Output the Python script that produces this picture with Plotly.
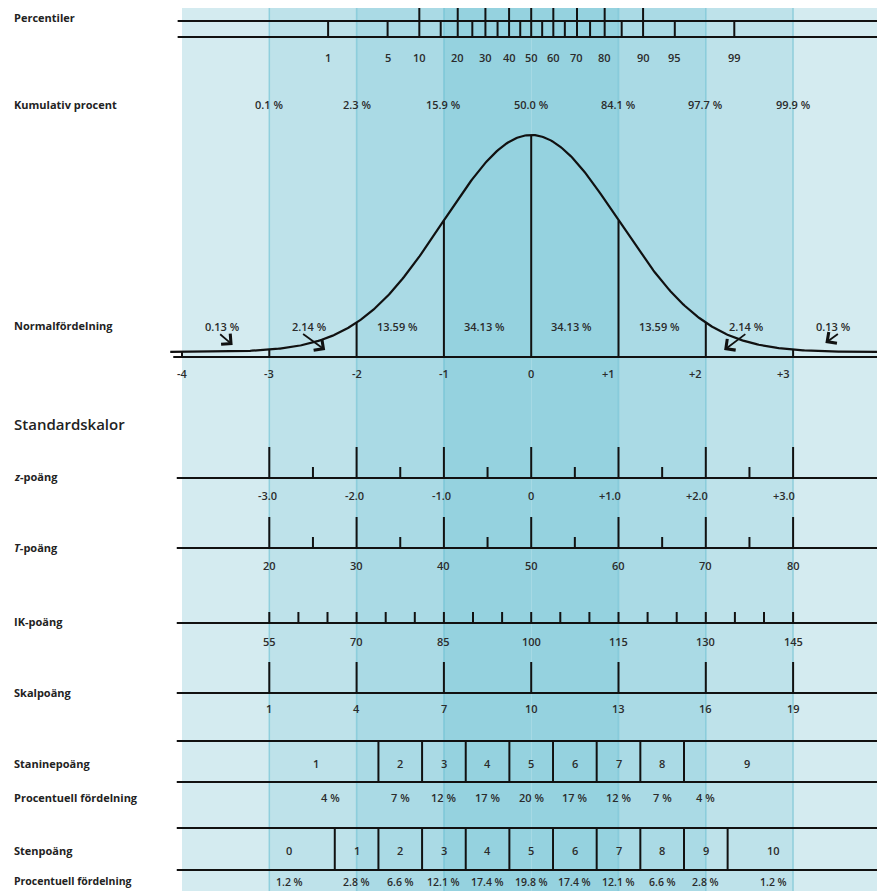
import plotly.graph_objects as go
from statistics import NormalDist
import numpy as np

ND = NormalDist()

# ---------------- data ----------------
band_edges = [-4, -3, -2, -1, 0, 1, 2, 3, 4]
z_axis_values = [-4, -3, -2, -1, 0, 1, 2, 3, 4]
z_axis_labels = ["-4", "-3", "-2", "-1", "0", "+1", "+2", "+3", "+4"]

percentile_major = [10, 20, 30, 40, 50, 60, 70, 80, 90]
percentile_minor = [1, 5, 15, 25, 35, 45, 55, 65, 75, 85, 95, 99]
percentile_labels = [1, 5, 10, 20, 30, 40, 50, 60, 70, 80, 90, 95, 99]

cumulative_z = [-3, -2, -1, 0, 1, 2, 3]
cumulative_labels = ["0.1 %", "2.3 %", "15.9 %", "50.0 %", "84.1 %", "97.7 %", "99.9 %"]

area_labels = ["0.13 %", "2.14 %", "13.59 %", "34.13 %", "34.13 %", "13.59 %", "2.14 %", "0.13 %"]

zscore_major = [-3, -2, -1, 0, 1, 2, 3]
zscore_minor = [-2.5, -1.5, -0.5, 0.5, 1.5, 2.5]
zscore_labels = ["-3.0", "-2.0", "-1.0", "0", "+1.0", "+2.0", "+3.0"]

t_major = [20, 30, 40, 50, 60, 70, 80]
t_minor = [25, 35, 45, 55, 65, 75]

iq_ticks = [55, 60, 65, 70, 75, 80, 85, 90, 95, 100, 105, 110, 115, 120, 125, 130, 135, 140, 145]
iq_labels = [55, 70, 85, 100, 115, 130, 145]

scale_scores = [1, 4, 7, 10, 13, 16, 19]

stanine_edges = [-1.75, -1.25, -0.75, -0.25, 0.25, 0.75, 1.25, 1.75]
stanine_labels = ["1", "2", "3", "4", "5", "6", "7", "8", "9"]
stanine_pct = ["4 %", "7 %", "12 %", "17 %", "20 %", "17 %", "12 %", "7 %", "4 %"]

sten_edges = [-2.25, -1.75, -1.25, -0.75, -0.25, 0.25, 0.75, 1.25, 1.75, 2.25]
sten_labels = ["0", "1", "2", "3", "4", "5", "6", "7", "8", "9", "10"]
sten_pct = ["1.2 %", "2.8 %", "6.6 %", "12.1 %", "17.4 %", "19.8 %", "17.4 %", "12.1 %", "6.6 %", "2.8 %", "1.2 %"]

# ---------------- layout constants ----------------
W, H = 877, 891
PX_PER_Z = 87.3
Z0_PX = 531.2
X_RANGE = [-Z0_PX / PX_PER_Z, (W - Z0_PX) / PX_PER_Z]
LINE_L = -4.06
LINE_R = X_RANGE[1] + 0.05

BAND_COLORS = {4: "#d4ebf0", 3: "#bee2ea", 2: "#aadae5", 1: "#95d2df"}
BAND_LINE = "rgba(95,185,205,0.55)"
INK = "#111111"
TXT = "#2b2b2b"
FONT = "Open Sans"
LW = 2
NUM_SIZE = 11

fig = go.Figure()
shapes = []
annots = []


def hline(x0, x1, y, w=LW):
    shapes.append(dict(type="line", xref="x", yref="y", x0=x0, x1=x1, y0=y, y1=y,
                       line=dict(color=INK, width=w), layer="above"))


def vline(x, y0, y1, w=LW):
    shapes.append(dict(type="line", xref="x", yref="y", x0=x, x1=x, y0=y0, y1=y1,
                       line=dict(color=INK, width=w), layer="above"))


def text(x, y, s, size=NUM_SIZE, weight=600, xshift=0, color=TXT):
    annots.append(dict(x=x, y=y, xref="x", yref="y", text=s, showarrow=False,
                       xanchor="center", yanchor="middle", xshift=xshift,
                       font=dict(family=FONT, size=size, color=color, weight=weight)))


def left_label(y, s, size=11, weight=700):
    annots.append(dict(x=12 / W, y=y, xref="paper", yref="y", text=s, showarrow=False,
                       xanchor="left", yanchor="middle",
                       font=dict(family=FONT, size=size, color="#222222", weight=weight)))


# ---------------- background bands ----------------
TOP = 8
for a, b in zip(band_edges[:-1], band_edges[1:]):
    lvl = int(max(abs(a), abs(b)))
    shapes.append(dict(type="rect", xref="x", yref="y", x0=a, x1=b, y0=TOP, y1=H,
                       fillcolor=BAND_COLORS[lvl], line=dict(width=0), layer="below"))
for e in band_edges[1:-1]:
    if e != 0:
        shapes.append(dict(type="line", xref="x", yref="y", x0=e, x1=e, y0=TOP, y1=H,
                           line=dict(color=BAND_LINE, width=1.5), layer="below"))

# ---------------- percentiles ----------------
P_TOP, P_L1, P_L2, P_LAB = 8, 21, 37, 57
hline(-4.05, LINE_R, P_L1)
hline(-4.05, LINE_R, P_L2)
for p in percentile_major:
    vline(ND.inv_cdf(p / 100), P_TOP, P_L2)
for p in percentile_minor:
    vline(ND.inv_cdf(p / 100), P_L1, P_L2)
for p in percentile_labels:
    text(ND.inv_cdf(p / 100), P_LAB, str(p))
left_label(17, "Percentiler")

# ---------------- cumulative percent ----------------
left_label(104, "Kumulativ procent")
for z, s in zip(cumulative_z, cumulative_labels):
    text(z, 104, s)

# ---------------- normal curve ----------------
BASE = 357
CURVE_BASE = 352
CURVE_H = 217
peak = ND.pdf(0)
zc = np.linspace(X_RANGE[0] + 1.95, X_RANGE[1] + 0.05, 500)
yc = [CURVE_BASE - CURVE_H * ND.pdf(v) / peak for v in zc]
fig.add_trace(go.Scatter(x=zc, y=yc, mode="lines", line=dict(color=INK, width=2.2),
                         hoverinfo="skip", showlegend=False))
hline(-4.1, LINE_R, BASE)
for z in z_axis_values[:-1]:
    vline(z, BASE, CURVE_BASE - CURVE_H * ND.pdf(z) / peak)
for z, s in zip(z_axis_values, z_axis_labels):
    text(z, 373, s, xshift=(-10 if s.startswith("+") else 0))
left_label(325, "Normalfördelning")
mids = [(a + b) / 2 for a, b in zip(band_edges[:-1], band_edges[1:])]
for z, s in zip(mids, area_labels):
    text(z, 326, s, xshift=-3)

# arrows for the small tail areas
for head, tail in [((-3.42, 345), (-3.58, 333)), ((-2.36, 350), (-2.63, 333)),
                   ((2.21, 350), (2.47, 333)), ((3.37, 343), (3.53, 333))]:
    annots.append(dict(x=head[0], y=head[1], ax=tail[0], ay=tail[1], xref="x", yref="y",
                       axref="x", ayref="y", text="", showarrow=True, arrowhead=4,
                       arrowsize=1.5, arrowwidth=1.8, arrowcolor=INK))

# ---------------- standard scales ----------------
left_label(424, "Standardskalor", size=15, weight=600)

# z-scores
ZL = 478
hline(LINE_L, LINE_R, ZL)
for z in zscore_major:
    vline(z, 447, ZL)
for z in zscore_minor:
    vline(z, 467, ZL)
for z, s in zip(zscore_major, zscore_labels):
    text(z, 495, s, xshift=(-9 if s.startswith("+") else (-2 if s.startswith("-") else 0)))
left_label(476, "<i>z</i>-poäng")

# T-scores
TL = 548
hline(LINE_L, LINE_R, TL)
for t in t_major:
    vline((t - 50) / 10, 517, TL)
for t in t_minor:
    vline((t - 50) / 10, 537, TL)
for t in t_major:
    text((t - 50) / 10, 565, str(t))
left_label(547, "<i>T</i>-poäng")

# IQ
IL = 623
hline(LINE_L, LINE_R, IL)
for q in iq_ticks:
    vline((q - 100) / 15, 612, IL)
for q in iq_labels:
    text((q - 100) / 15, 641, str(q))
left_label(621, "IK-poäng")

# scale scores
SL = 693
hline(LINE_L, LINE_R, SL)
for s in scale_scores:
    vline((s - 10) / 3, 662, SL)
    text((s - 10) / 3, 708, str(s))
left_label(692, "Skalpoäng")

# stanine
ST_T, ST_B = 741, 782
hline(LINE_L, LINE_R, ST_T)
hline(LINE_L, LINE_R, ST_B)
for e in stanine_edges:
    vline(e, ST_T, ST_B)
st_centers = [-2.47] + [(a + b) / 2 for a, b in zip(stanine_edges[:-1], stanine_edges[1:])] + [2.47]
for z, s in zip(st_centers, stanine_labels):
    text(z, 763, s)
st_pct_pos = [-2.3] + st_centers[1:-1] + [2.0]
for z, s in zip(st_pct_pos, stanine_pct):
    text(z, 797, s)
left_label(763, "Staninepoäng")
left_label(797, "Procentuell fördelning")

# sten
SN_T, SN_B = 828, 870
hline(LINE_L, LINE_R, SN_T)
hline(LINE_L, LINE_R, SN_B)
for e in sten_edges:
    vline(e, SN_T, SN_B)
sn_centers = [-2.77] + [(a + b) / 2 for a, b in zip(sten_edges[:-1], sten_edges[1:])] + [2.77]
for z, s in zip(sn_centers, sten_labels):
    text(z, 850, s)
for z, s in zip(sn_centers, sten_pct):
    text(z, 882, s, size=10.5)
left_label(850, "Stenpoäng")
left_label(881, "Procentuell fördelning", size=10.5)

fig.update_layout(
    width=W, height=H, margin=dict(l=0, r=0, t=0, b=0),
    paper_bgcolor="white", plot_bgcolor="white",
    shapes=shapes, annotations=annots, showlegend=False,
    xaxis=dict(range=X_RANGE, visible=False, fixedrange=True),
    yaxis=dict(range=[H, 0], visible=False, fixedrange=True),
    font=dict(family=FONT),
)

fig.write_html("out.html", config={"displayModeBar": False},
               post_script="document.body.style.margin='0';")
